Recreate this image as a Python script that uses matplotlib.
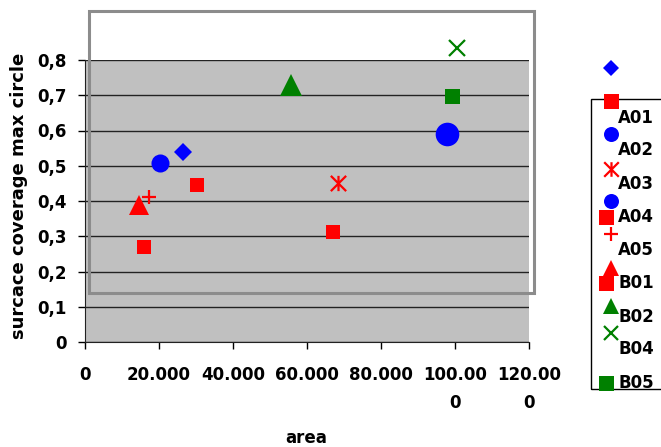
import numpy as np
import matplotlib
matplotlib.use("Agg")
from matplotlib import pyplot as plt
from matplotlib.path import Path
from matplotlib.patches import Rectangle
from matplotlib.lines import Line2D

# one point per series, in legend order
area = [26450, 30400, 20300, 68450, 97800, 67000, 17450, 14600, 16100, 55600, 100400, 99200]
coverage = [0.540, 0.445, 0.507, 0.450, 0.591, 0.311, 0.411, 0.390, 0.270, 0.730, 0.835, 0.697]
colors = ["#0000FF", "#FF0000", "#0000FF", "#FF0000", "#0000FF", "#FF0000",
          "#FF0000", "#FF0000", "#FF0000", "#008000", "#008000", "#008000"]

legend_labels = ["A01", "A02", "A03", "A04", "A05", "B01", "B02", "B04", "B05"]

x_ticks = [0, 20000, 40000, 60000, 80000, 100000, 120000]
x_ticklabels = ["0", "20.000", "40.000", "60.000", "80.000", "100.00\n0", "120.00\n0"]
y_ticks = [0, 0.1, 0.2, 0.3, 0.4, 0.5, 0.6, 0.7, 0.8]
y_ticklabels = ["0", "0,1", "0,2", "0,3", "0,4", "0,5", "0,6", "0,7", "0,8"]

# excel style "star": vertical bar plus an X
star = Path([(0, -1), (0, 1), (-1, -1), (1, 1), (-1, 1), (1, -1)],
            [Path.MOVETO, Path.LINETO, Path.MOVETO, Path.LINETO, Path.MOVETO, Path.LINETO])

# marker, size (pt), edge width
styles = [("D", 9.2, 0), ("s", 10.3, 0), ("o", 13, 0), (star, 11, 1.6),
          ("o", 17, 0), ("s", 10.3, 0), ("+", 10, 1.6), ("^", 15, 0),
          ("s", 10.3, 0), ("^", 16, 0), ("x", 11, 1.6), ("s", 10.8, 0)]

plt.rcParams["font.family"] = ["DejaVu Sans"]
plt.rcParams["font.weight"] = "bold"

W, H = 661, 447
fig = plt.figure(figsize=(W / 100, H / 100), dpi=100)


def px(x, y):
    return x / W, 1 - y / H


ax = fig.add_axes([84.7 / W, 1 - 342 / H, 444.6 / W, 282 / H])
ax.set_facecolor("#C0C0C0")
ax.set_xlim(0, 120000)
ax.set_ylim(0, 0.8)

for xi, yi, c, (m, s, lw) in zip(area, coverage, colors, styles):
    ax.plot(xi, yi, linestyle="none", marker=m, markersize=s, color=c,
            markeredgewidth=lw, clip_on=False, zorder=5)

ax.set_xticks(x_ticks)
ax.set_xticklabels(x_ticklabels, fontsize=12, fontweight="bold", linespacing=1.75)
ax.set_yticks(y_ticks)
ax.set_yticklabels(y_ticklabels, fontsize=12, fontweight="bold")
ax.tick_params(axis="x", direction="out", length=5, width=1, pad=12)
ax.tick_params(axis="y", direction="out", length=5, width=1, pad=8)
for yv in y_ticks:
    ax.axhline(yv, color="#222222", lw=1, zorder=1)
for side in ["top", "right"]:
    ax.spines[side].set_visible(False)
ax.spines["left"].set_color("#222222")
ax.spines["bottom"].set_color("#222222")

ax.set_xlabel("area", fontsize=12, fontweight="bold", va="center")
ax.xaxis.set_label_coords(0.499, (342 - 438) / 282)
ax.set_ylabel("surcace coverage max circle", fontsize=13, fontweight="bold",
              va="center", ha="center")
ax.yaxis.set_label_coords((19 - 84.7) / 444.6, (342 - 196) / 282)

# plot area frame
x0, y0 = px(89, 293)
x1, y1 = px(534, 11)
fig.add_artist(Rectangle((x0, y0), x1 - x0, y1 - y0, transform=fig.transFigure,
                         fill=False, edgecolor="#8C8C8C", lw=2.2, zorder=3))

# legend
lx0, ly0 = px(591, 389)
lx1, ly1 = px(670, 99)
fig.add_artist(Rectangle((lx0, ly0), lx1 - lx0, ly1 - ly0, transform=fig.transFigure,
                         fill=False, edgecolor="black", lw=1, zorder=3))

key_pos = [(610.7, 68.3), (610.7, 101), (610.7, 134), (610.7, 169.3), (610.7, 201),
           (605.7, 216.7), (610.7, 234.3), (610.7, 267.7), (605.7, 283.3),
           (610.7, 305.7), (610.7, 333), (605.7, 383.3)]
key_size = [7.8, 10.8, 10.8, 10.5, 10.8, 10.8, 9.5, 11, 10.8, 11, 10.5, 10.8]
for (kx, ky), c, (m, s, lw), ks in zip(key_pos, colors, styles, key_size):
    fx, fy = px(kx, ky)
    fig.add_artist(Line2D([fx], [fy], transform=fig.transFigure, marker=m,
                          markersize=ks, color=c, markeredgewidth=lw,
                          linestyle="none", zorder=4))

label_y = [117.7, 150, 184, 216.7, 250, 283.3, 316.7, 349.3, 383.3]
for lab, ly in zip(legend_labels, label_y):
    fx, fy = px(618.3, ly)
    fig.text(fx, fy, lab, fontsize=12, fontweight="bold", ha="left", va="center")

fig.savefig("out.png", dpi=100)
